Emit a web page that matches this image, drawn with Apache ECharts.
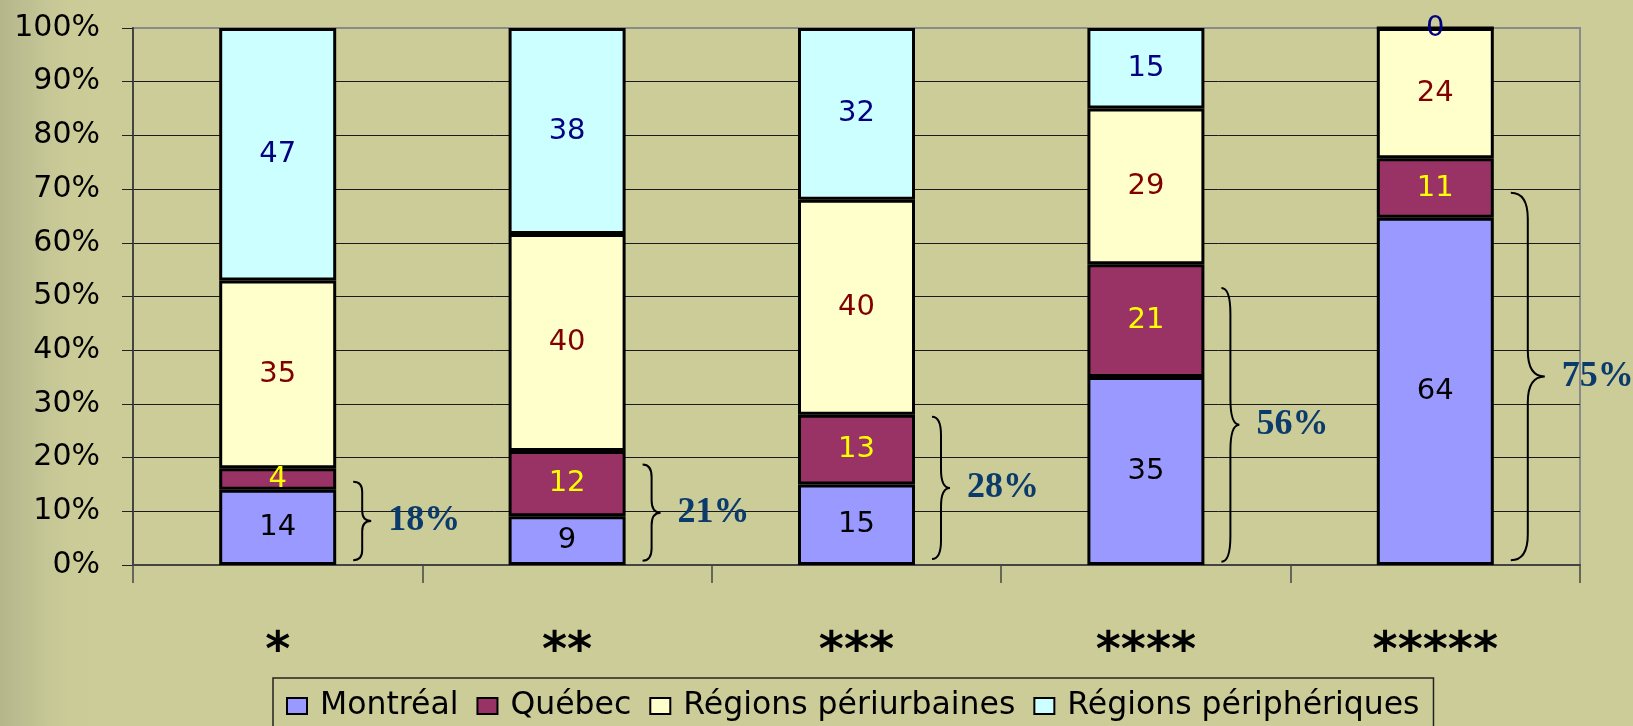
<!DOCTYPE html>
<html>
<head>
<meta charset="utf-8">
<script src="https://cdn.jsdelivr.net/npm/echarts@6/dist/echarts.min.js"></script>
<style>
  html, body { margin: 0; padding: 0; }
  #chart {
    width: 1633px;
    height: 726px;
    background: linear-gradient(to right, #b6b68b 0px, #bcbd90 22px, #c5c695 45px, #cbcb98 70px, #cccc99 100px);
  }
</style>
</head>
<body>
<div id="chart"></div>
<script>
var categories = ['*', '**', '***', '****', '*****']
var montreal = [14, 9, 15, 35, 64]
var quebec = [4, 12, 13, 21, 11]
var periurbaines = [35, 40, 40, 29, 24]
var peripheriques = [47, 38, 32, 15, 0]

// accolades dessinées à droite des barres (Montréal + Québec)
var partMtlQc = [18, 21, 28, 56, 75]
var braceFrom = [0.9, 0.8, 1.1, 0.6, 0.9]
var braceTo = [15.5, 18.7, 27.6, 51.6, 69.3]

var FONT = 'DejaVu Sans'
var BAR_W = 117

// barres empilées à 100 %
function toPercent(values, i) {
  var total = montreal[i] + quebec[i] + periurbaines[i] + peripheriques[i]
  return { value: values[i] / total * 100, raw: values[i] }
}

function barSeries(name, values, fill, labelColor) {
  return {
    name: name,
    type: 'bar',
    stack: 'total',
    barWidth: BAR_W,
    data: values.map(function (v, i) { return toPercent(values, i) }),
    itemStyle: {
      color: fill,
      borderColor: '#000',
      borderWidth: 3
    },
    label: {
      show: true,
      position: 'inside',
      fontFamily: FONT,
      fontSize: 29,
      color: labelColor,
      formatter: function (p) { return p.data.raw }
    }
  }
}

function renderBrace(params, api) {
  var idx = api.value(0)
  var p0 = api.coord([idx, api.value(1)])
  var p1 = api.coord([idx, api.value(2)])
  var yb = p0[1], yt = p1[1]
  var h = yb - yt
  var w = h > 300 ? 34 : 18
  var x0 = p0[0] + BAR_W / 2 + 17
  var xm = x0 + w / 2
  var xt = x0 + w
  var ym = (yt + yb) / 2
  var r = Math.min(h * 0.13, 26)
  var d = 'M' + x0 + ' ' + yt +
    ' Q' + xm + ' ' + yt + ' ' + xm + ' ' + (yt + r) +
    ' L' + xm + ' ' + (ym - r) +
    ' Q' + xm + ' ' + ym + ' ' + xt + ' ' + ym +
    ' Q' + xm + ' ' + ym + ' ' + xm + ' ' + (ym + r) +
    ' L' + xm + ' ' + (yb - r) +
    ' Q' + xm + ' ' + yb + ' ' + x0 + ' ' + yb
  return {
    type: 'group',
    children: [{
      type: 'path',
      shape: { pathData: d },
      style: { fill: null, stroke: '#000', lineWidth: 2 }
    }, {
      type: 'text',
      style: {
        text: api.value(3) + '%',
        x: xt + 17,
        y: ym,
        align: 'left',
        verticalAlign: 'middle',
        fontFamily: 'Liberation Serif',
        fontWeight: 'bold',
        fontSize: 36,
        fill: '#0b3b6b'
      }
    }]
  }
}

var chart = echarts.init(document.getElementById('chart'))
chart.setOption({
  animation: false,
  textStyle: { fontFamily: FONT },
  grid: {
    left: 133,
    right: 53,
    top: 28,
    bottom: 161,
    show: true,
    borderColor: '#8a8a8a',
    borderWidth: 2,
    backgroundColor: 'transparent'
  },
  legend: {
    data: ['Montréal', 'Québec', 'Régions périurbaines', 'Régions périphériques'],
    icon: 'rect',
    left: 273,
    top: 678,
    padding: [12, 14, 26, 13],
    itemWidth: 20,
    itemHeight: 16,
    itemGap: 18,
    borderColor: '#222',
    borderWidth: 1.5,
    itemStyle: { borderColor: '#000', borderWidth: 2 },
    textStyle: {
      fontFamily: FONT,
      fontSize: 31.5,
      color: '#000',
      padding: [0, 0, 0, 8]
    }
  },
  xAxis: {
    type: 'category',
    data: categories,
    axisLine: { lineStyle: { color: '#444', width: 2 } },
    axisTick: { show: true, length: 18, lineStyle: { color: '#444', width: 1.5 } },
    axisLabel: {
      margin: 64,
      fontFamily: FONT,
      fontSize: 48,
      fontWeight: 'bold',
      color: '#000'
    }
  },
  yAxis: {
    type: 'value',
    min: 0,
    max: 100,
    interval: 10,
    axisLine: { show: true, lineStyle: { color: '#444', width: 2 } },
    axisTick: { show: true, length: 11, lineStyle: { color: '#222', width: 1 } },
    axisLabel: {
      margin: 33,
      fontFamily: FONT,
      fontSize: 30,
      color: '#000',
      formatter: '{value}%'
    },
    splitLine: {
      show: true,
      showMaxLine: false,
      lineStyle: { color: '#1a1a1a', width: 1 }
    }
  },
  series: [
    barSeries('Montréal', montreal, '#9999ff', '#000'),
    barSeries('Québec', quebec, '#993366', '#ffff00'),
    barSeries('Régions périurbaines', periurbaines, '#ffffcc', '#800000'),
    barSeries('Régions périphériques', peripheriques, '#ccffff', '#000080'),
    {
      name: 'accolades',
      type: 'custom',
      renderItem: renderBrace,
      clip: false,
      z: 10,
      encode: { x: 0, y: [1, 2] },
      data: categories.map(function (c, i) {
        return [i, braceFrom[i], braceTo[i], partMtlQc[i]]
      })
    }
  ]
})
</script>
</body>
</html>
